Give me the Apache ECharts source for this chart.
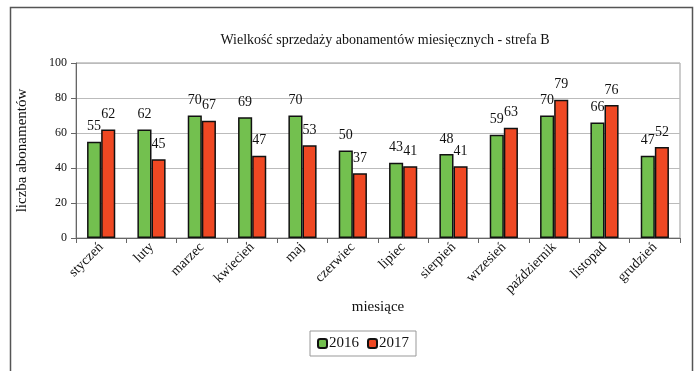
<!DOCTYPE html>
<html>
<head>
<meta charset="utf-8">
<title>Wielkość sprzedaży abonamentów</title>
<script src="https://cdn.jsdelivr.net/npm/echarts@6/dist/echarts.min.js"></script>
<style>
  html, body { margin: 0; padding: 0; background: #fff; }
  #main { width: 695px; height: 371px; }
</style>
</head>
<body>
<div id="main"></div>
<script>
// dane z wykresu
var miesiace = ['styczeń', 'luty', 'marzec', 'kwiecień', 'maj', 'czerwiec', 'lipiec', 'sierpień', 'wrzesień', 'październik', 'listopad', 'grudzień'];
var sprzedaz2016 = [55, 62, 70, 69, 70, 50, 43, 48, 59, 70, 66, 47];
var sprzedaz2017 = [62, 45, 67, 47, 53, 37, 41, 41, 63, 79, 76, 52];
var osY = [0, 20, 40, 60, 80, 100];

var font = 'Liberation Serif, Times New Roman, serif';
var myChart = echarts.init(document.getElementById('main'));

var option = {
    animation: false,
    textStyle: { fontFamily: font, color: '#111' },
    title: {
        text: 'Wielkość sprzedaży abonamentów miesięcznych - strefa B',
        left: 380, top: 28, textAlign: 'center',
        textStyle: { fontFamily: font, fontSize: 14, fontWeight: 'normal', color: '#111' }
    },
    graphic: [{
        type: 'rect', left: 8, top: 5,
        shape: { width: 682, height: 380 },
        style: { fill: 'none', stroke: '#555', lineWidth: 1.5 }
    }],
    legend: {
        data: ['2016', '2017'],
        left: 310, top: 331,
        itemWidth: 9, itemHeight: 9, itemGap: 8,
        padding: [5, 7],
        borderColor: '#999', borderWidth: 1,
        textStyle: { fontFamily: font, fontSize: 15, color: '#111', padding: [0, 0, 0, -3] }
    },
    grid: {
        left: 76, right: 15, top: 63, bottom: 133, containLabel: false,
        show: true, borderColor: '#999', borderWidth: 1
    },
    xAxis: {
        type: 'category',
        data: miesiace,
        name: 'miesiące',
        nameLocation: 'middle',
        nameGap: 62,
        nameTextStyle: { fontFamily: font, fontSize: 15, color: '#111' },
        axisLine: { lineStyle: { color: '#666', width: 1 } },
        axisTick: { show: true, length: 5, lineStyle: { color: '#666' } },
        axisLabel: { rotate: 45, fontSize: 14, color: '#111', margin: 7 }
    },
    yAxis: {
        type: 'value',
        min: osY[0], max: osY[osY.length - 1], interval: 20,
        name: 'liczba abonamentów',
        nameLocation: 'middle',
        nameGap: 46,
        nameTextStyle: { fontFamily: font, fontSize: 15, color: '#111' },
        axisLine: { show: true, lineStyle: { color: '#666' } },
        axisTick: { show: true, length: 5, lineStyle: { color: '#666' } },
        axisLabel: { fontSize: 12, color: '#111', margin: 9 },
        splitLine: { lineStyle: { color: '#bbb' } }
    },
    series: [{
        name: '2016',
        type: 'bar',
        data: sprzedaz2016,
        barGap: '0%',
        barCategoryGap: '44%',
        itemStyle: { color: '#73c04f', borderColor: '#111', borderWidth: 1.5 },
        label: { show: true, position: 'top', distance: 8, fontFamily: font, fontSize: 14, color: '#111' }
    }, {
        name: '2017',
        type: 'bar',
        data: sprzedaz2017,
        itemStyle: { color: '#ef4823', borderColor: '#111', borderWidth: 1.5 },
        label: { show: true, position: 'top', distance: 8, fontFamily: font, fontSize: 14, color: '#111' }
    }]
};

myChart.setOption(option);
</script>
</body>
</html>
